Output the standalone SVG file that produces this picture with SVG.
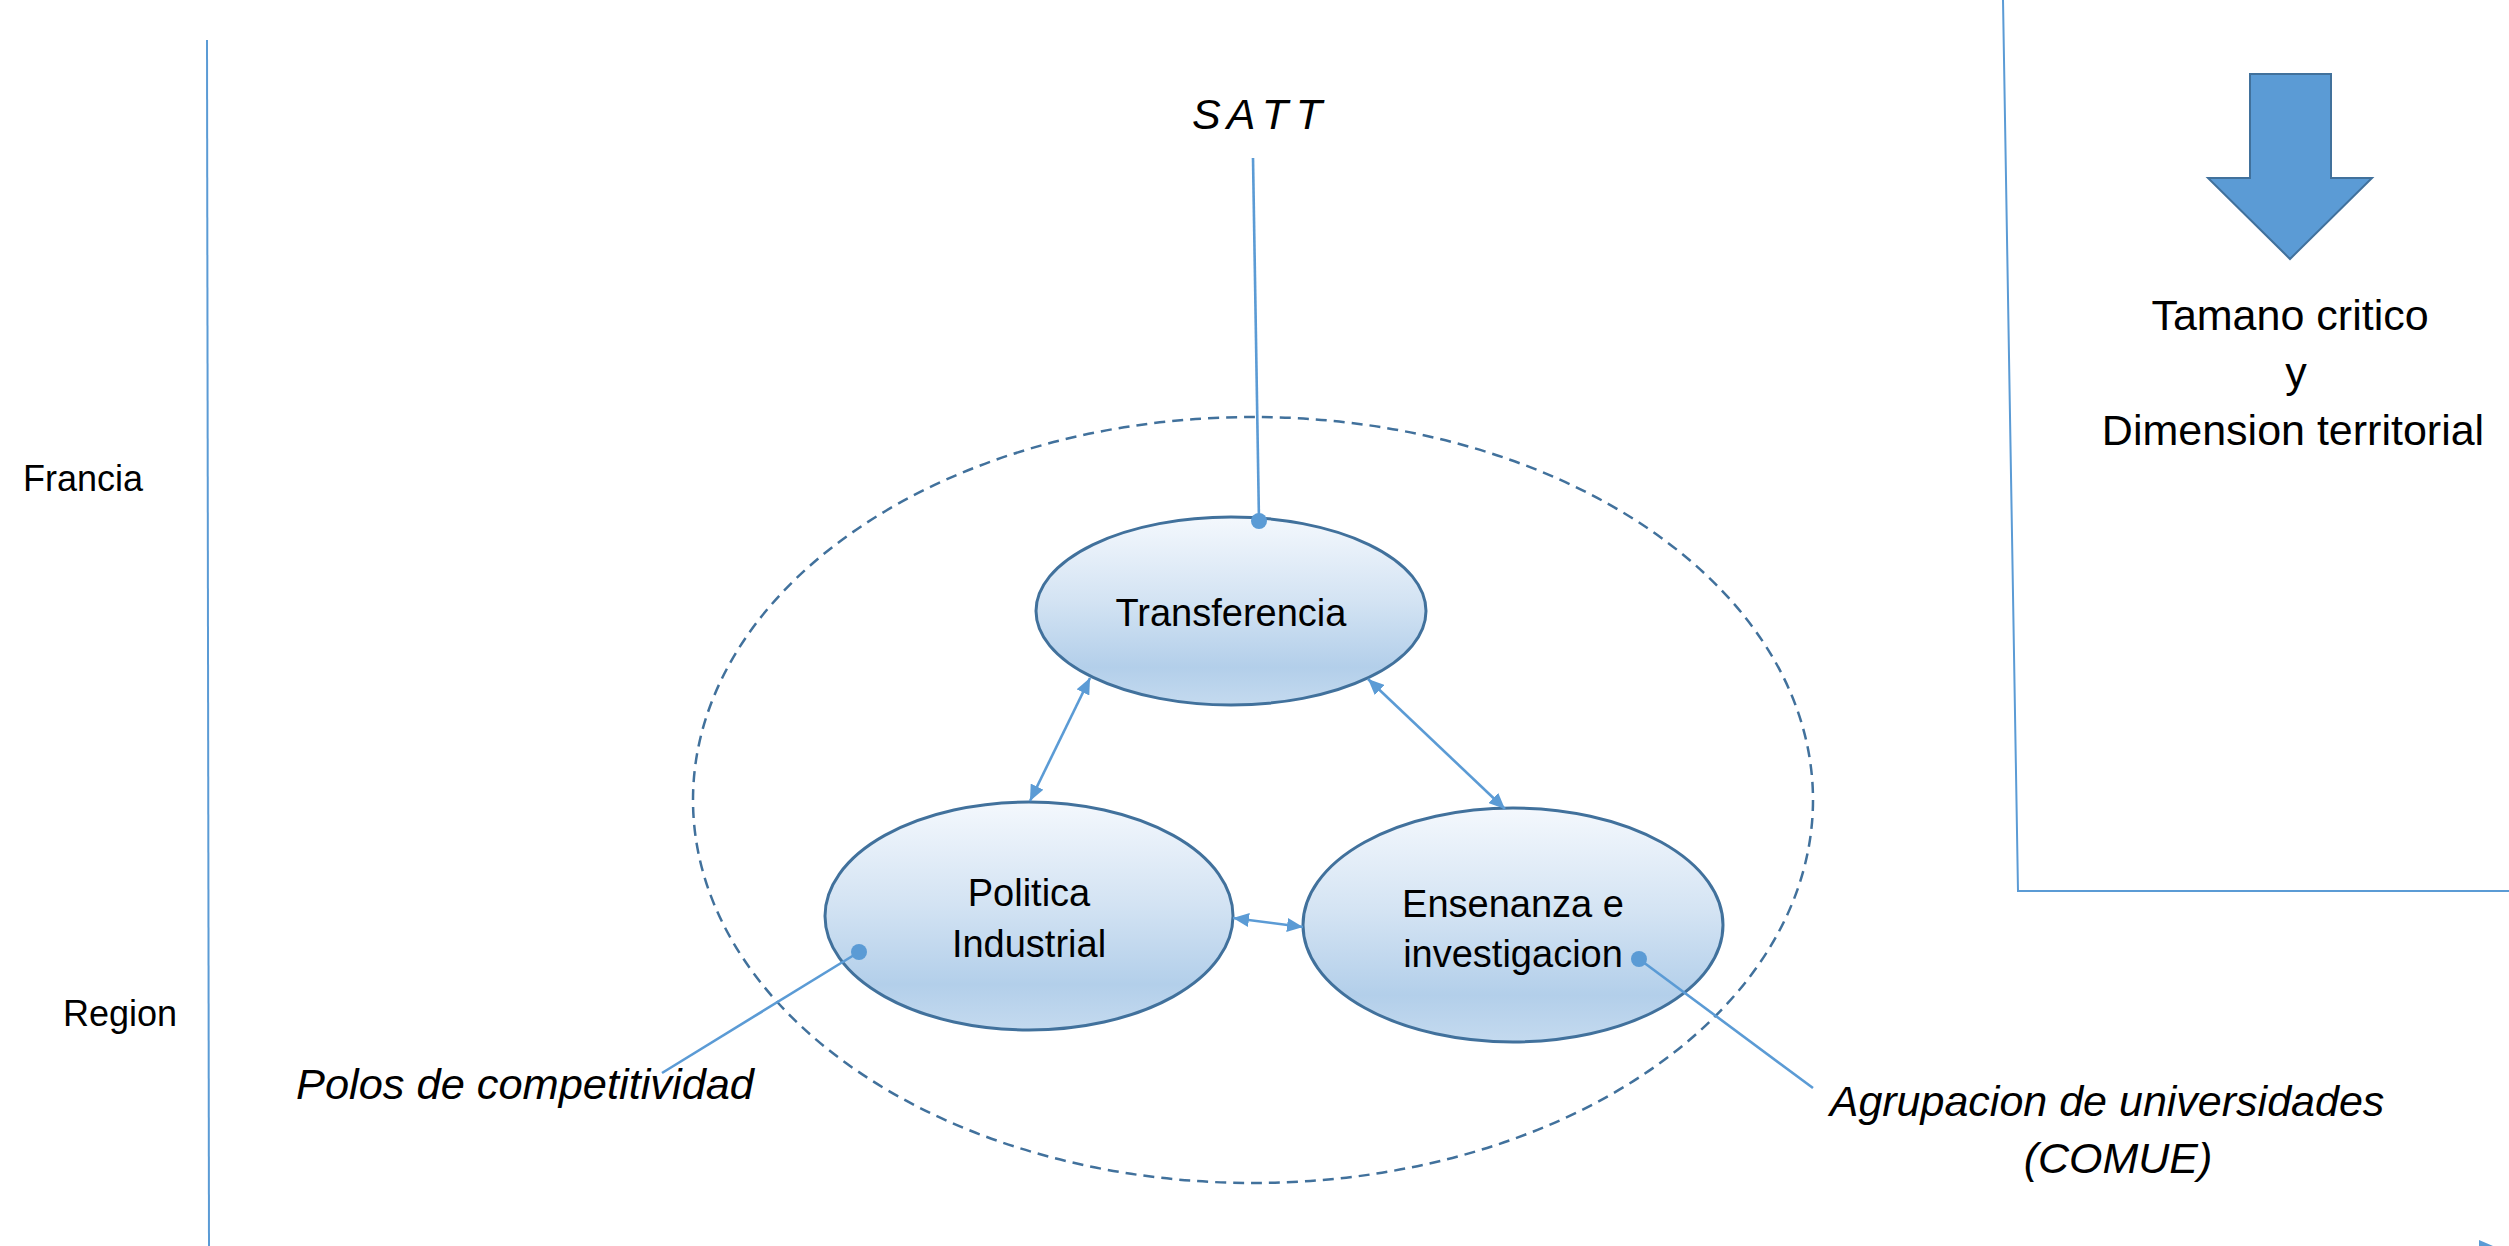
<svg xmlns="http://www.w3.org/2000/svg" width="2509" height="1246" viewBox="0 0 2509 1246">
<style>
text { font-family: "Liberation Sans", Arial, sans-serif; fill: #000; }
.lbl { font-size: 36px; }
.node-text { font-size: 38px; text-anchor: middle; }
.ital { font-size: 43px; font-style: italic; }
.big { font-size: 43px; text-anchor: middle; }
.node { fill: url(#nodeGrad); stroke: #41719C; stroke-width: 3; }
.conn { stroke: #5B9BD5; stroke-width: 2.6; fill: none; }
.dbl { marker-start: url(#ah); marker-end: url(#ah); }
.rule { stroke: #5B9BD5; stroke-width: 2; fill: none; }
.dot { fill: #5B9BD5; }
</style>
<defs>
<linearGradient id="nodeGrad" x1="0" y1="0" x2="0" y2="1">
<stop offset="0" stop-color="#F4F8FD"/>
<stop offset="0.45" stop-color="#D3E3F3"/>
<stop offset="0.8" stop-color="#B3CFEA"/>
<stop offset="1" stop-color="#C4DAEF"/>
</linearGradient>
<marker id="ah" viewBox="0 0 16 14" markerWidth="16" markerHeight="14" refX="16" refY="7" orient="auto-start-reverse" markerUnits="userSpaceOnUse">
<path d="M0,0 L16,7 L0,14 z" fill="#5B9BD5"/>
</marker>
</defs>
<rect width="2509" height="1246" fill="#fff"/>

<g id="frame">
<line class="rule" x1="207" y1="40" x2="209" y2="1246"/>
<polyline class="rule" points="2003,0 2018,891 2509,891"/>
<polygon points="2479,1240 2493,1246 2479,1246" fill="#5B9BD5"/>
</g>

<g id="scope">
<ellipse cx="1253" cy="800" rx="560" ry="383" fill="none" stroke="#41719C" stroke-width="2.5" stroke-dasharray="11 7"/>
</g>

<g id="label-francia"><text class="lbl" x="23" y="491">Francia</text></g>
<g id="label-region"><text class="lbl" x="63" y="1026">Region</text></g>

<g id="node-transferencia">
<ellipse class="node" cx="1231" cy="611" rx="195" ry="94"/>
<text class="node-text" x="1231" y="626">Transferencia</text>
</g>

<g id="node-politica">
<ellipse class="node" cx="1029" cy="916" rx="204" ry="114"/>
<text class="node-text" x="1029" y="906">Politica</text>
<text class="node-text" x="1029" y="957">Industrial</text>
</g>

<g id="node-ensenanza">
<ellipse class="node" cx="1513" cy="925" rx="210" ry="117"/>
<text class="node-text" x="1513" y="917">Ensenanza e</text>
<text class="node-text" x="1513" y="967">investigacion</text>
</g>

<g id="connectors">
<line class="conn" x1="1253" y1="158" x2="1259" y2="521"/>
<line class="conn" x1="859" y1="952" x2="662" y2="1073"/>
<line class="conn" x1="1639" y1="959" x2="1813" y2="1088"/>
<line class="conn dbl" x1="1090" y1="678" x2="1030" y2="801"/>
<line class="conn dbl" x1="1368" y1="679" x2="1505" y2="809"/>
<line class="conn dbl" x1="1233" y1="918" x2="1303" y2="927"/>
<circle class="dot" cx="1259" cy="521" r="8"/>
<circle class="dot" cx="859" cy="952" r="8"/>
<circle class="dot" cx="1639" cy="959" r="8"/>
</g>

<g id="label-satt"><text class="ital" x="1257" y="129" text-anchor="middle" textLength="130" lengthAdjust="spacing">S A T T</text></g>
<g id="label-polos"><text class="ital" x="296" y="1099" textLength="458" lengthAdjust="spacingAndGlyphs">Polos de competitividad</text></g>
<g id="label-comue">
<text class="ital" x="2107" y="1116" text-anchor="middle">Agrupacion de universidades</text>
<text class="ital" x="2118" y="1173" text-anchor="middle">(COMUE)</text>
</g>

<g id="tamano">
<polygon points="2250,74 2331,74 2331,178 2372,178 2290,259 2208,178 2250,178" fill="#5B9BD5" stroke="#41719C" stroke-width="2"/>
<text class="big" x="2290" y="330">Tamano critico</text>
<text class="big" x="2296" y="387">y</text>
<text class="big" x="2293" y="445">Dimension territorial</text>
</g>
</svg>
